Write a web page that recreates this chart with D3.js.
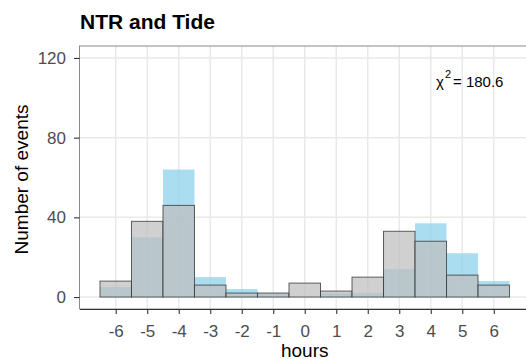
<!DOCTYPE html>
<html>
<head>
<meta charset="utf-8">
<script src="https://cdn.jsdelivr.net/npm/d3@7"></script>
<style>
  html, body { margin: 0; padding: 0; background: #ffffff; }
  svg { display: block; font-family: "Liberation Sans", Arial, sans-serif; }
</style>
</head>
<body>
<svg id="chart" width="526" height="359"></svg>
<script>
// Hour offsets (bin centres) and event counts per bin
const hours = [-6, -5, -4, -3, -2, -1, 0, 1, 2, 3, 4, 5, 6];
const tideCounts = [5, 30, 64, 10, 4, 2, 0, 2, 2, 14, 37, 22, 8];
const ntrCounts = [8, 38, 46, 6, 2, 2, 7, 3, 10, 33, 28, 11, 6];
const yTicks = [0, 40, 80, 120];
const xTicks = hours;
const chartTitle = "NTR and Tide";
const xTitle = "hours";
const yTitle = "Number of events";
const chiValue = "180.6";

const svg = d3.select("#chart");

// Panel extents
const panel = { left: 79.5, right: 530, top: 46, bottom: 309 };

const x = d3.scaleLinear().domain([-7.15, 7.15]).range([panel.left, panel.right]);
const y = d3.scaleLinear().domain([-6, 126]).range([panel.bottom, panel.top]);

svg.append("defs").append("clipPath").attr("id", "panel-clip")
  .append("rect")
  .attr("x", panel.left).attr("y", panel.top)
  .attr("width", panel.right - panel.left).attr("height", panel.bottom - panel.top);

// Grid lines
const grid = svg.append("g").attr("clip-path", "url(#panel-clip)");
grid.selectAll("line.gx").data(xTicks).join("line")
  .attr("x1", d => x(d)).attr("x2", d => x(d))
  .attr("y1", panel.top).attr("y2", panel.bottom)
  .attr("stroke", "#e9e9e9").attr("stroke-width", 1.5);
grid.selectAll("line.gy").data(yTicks).join("line")
  .attr("x1", panel.left).attr("x2", panel.right)
  .attr("y1", d => y(d)).attr("y2", d => y(d))
  .attr("stroke", "#e9e9e9").attr("stroke-width", 1.5);

// Bars: tide (blue) underneath, NTR (grey, outlined) on top
const bars = svg.append("g").attr("clip-path", "url(#panel-clip)");
bars.selectAll("rect.tide").data(hours).join("rect")
  .attr("class", "tide")
  .attr("x", d => x(d - 0.5))
  .attr("width", d => x(d + 0.5) - x(d - 0.5))
  .attr("y", (d, i) => y(tideCounts[i]))
  .attr("height", (d, i) => y(0) - y(tideCounts[i]))
  .attr("fill", "rgb(135,206,235)").attr("fill-opacity", 0.7);

bars.selectAll("rect.ntr").data(hours).join("rect")
  .attr("class", "ntr")
  .attr("x", d => x(d - 0.5))
  .attr("width", d => x(d + 0.5) - x(d - 0.5))
  .attr("y", (d, i) => y(ntrCounts[i]))
  .attr("height", (d, i) => y(0) - y(ntrCounts[i]))
  .attr("fill", "rgb(190,190,190)").attr("fill-opacity", 0.72)
  .attr("stroke", "#3a3a3a").attr("stroke-opacity", 0.8).attr("stroke-width", 1);

// Panel border
svg.append("rect")
  .attr("x", panel.left).attr("y", panel.top)
  .attr("width", panel.right - panel.left).attr("height", panel.bottom - panel.top)
  .attr("fill", "none").attr("stroke", "#8a8a8a").attr("stroke-width", 1);

// Axes (plain hyphen for negative labels)
const fmt = d => String(d);

const xAxis = svg.append("g")
  .attr("transform", `translate(0,${panel.bottom})`)
  .call(d3.axisBottom(x).tickValues(xTicks).tickFormat(fmt)
    .tickSize(5).tickPadding(11).tickSizeOuter(0));
xAxis.select(".domain").attr("stroke", "#333333").attr("stroke-width", 1.2);
xAxis.selectAll(".tick line").attr("stroke", "#333333").attr("stroke-width", 1.1);
xAxis.selectAll(".tick text")
  .attr("fill", "#4d4d4d").attr("font-size", 17)
  .attr("font-family", "Liberation Sans, Arial, sans-serif");

const yAxis = svg.append("g")
  .attr("transform", `translate(${panel.left},0)`)
  .call(d3.axisLeft(y).tickValues(yTicks).tickFormat(fmt)
    .tickSize(5.5).tickPadding(8).tickSizeOuter(0));
yAxis.select(".domain").remove();
yAxis.selectAll(".tick line").attr("stroke", "#333333").attr("stroke-width", 1.1);
yAxis.selectAll(".tick text")
  .attr("fill", "#4d4d4d").attr("font-size", 17)
  .attr("font-family", "Liberation Sans, Arial, sans-serif");

// Titles
svg.append("text")
  .attr("x", 80).attr("y", 29)
  .attr("font-size", 21).attr("font-weight", "bold").attr("fill", "#000")
  .text(chartTitle);

svg.append("text")
  .attr("x", x(0)).attr("y", 357)
  .attr("text-anchor", "middle").attr("font-size", 19).attr("fill", "#000")
  .text(xTitle);

svg.append("text")
  .attr("transform", `translate(28,${(panel.top + panel.bottom) / 2 + 2}) rotate(-90)`)
  .attr("text-anchor", "middle").attr("font-size", 19).attr("fill", "#000")
  .text(yTitle);

// Chi-squared annotation
const chi = svg.append("text")
  .attr("x", 436).attr("y", 86.5)
  .attr("font-size", 15).attr("fill", "#000");
chi.append("tspan").text("\u03C7");
chi.append("tspan").attr("dy", -9).attr("dx", 1).attr("font-size", 11).text("2");
chi.append("tspan").attr("dy", 9).attr("dx", 2).text("= " + chiValue);
</script>
</body>
</html>
